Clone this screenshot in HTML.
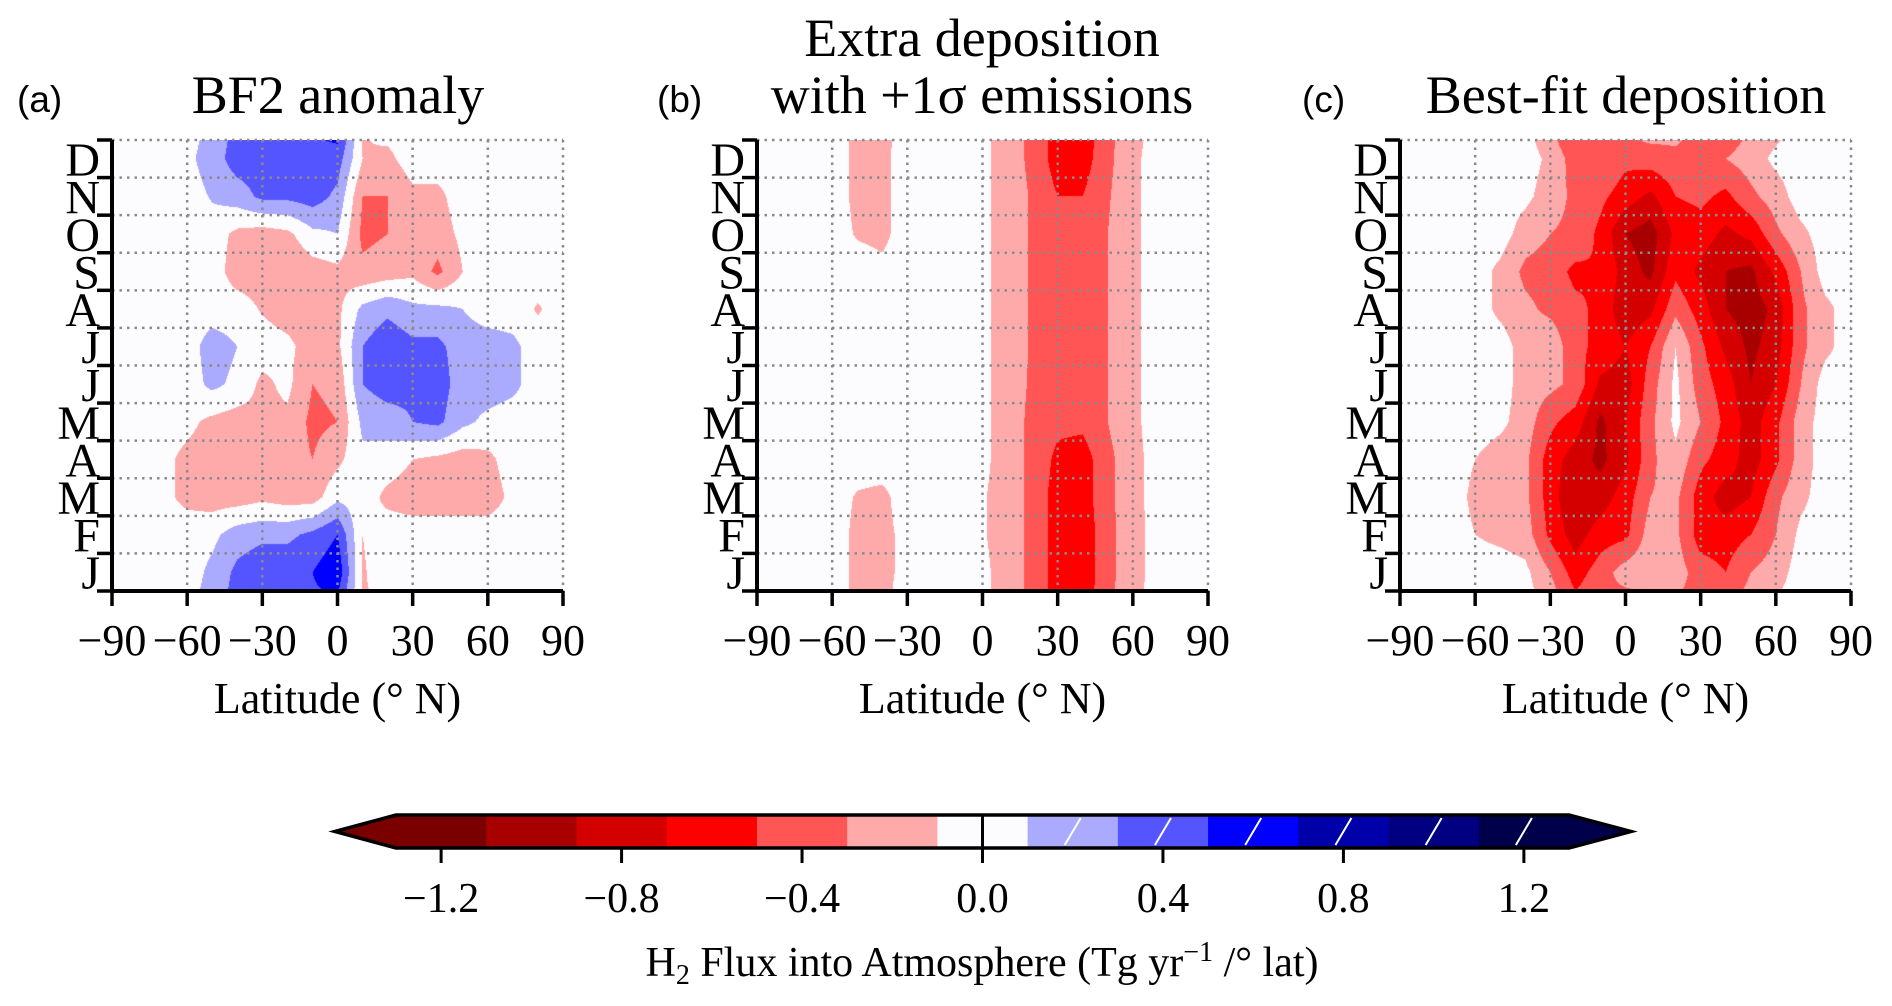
<!DOCTYPE html>
<html><head><meta charset="utf-8">
<style>
html,body{margin:0;padding:0;background:#fff;}
#root{position:relative;width:1892px;height:1006px;overflow:hidden;font-family:"Liberation Serif",serif;}
canvas{position:absolute;}
svg{position:absolute;left:0;top:0;}
</style></head>
<body>
<div id="root">
<canvas id="ca" width="451" height="451" style="left:112px;top:140px"></canvas>
<canvas id="cb" width="451" height="451" style="left:757px;top:140px"></canvas>
<canvas id="cc" width="451" height="451" style="left:1400px;top:140px"></canvas>
<svg id="svg" width="1892" height="1006"></svg>
</div>
<script>
// Latitude columns -90..90 step 10; rows J..D (month index 0..11)
const lats = [-90,-80,-70,-60,-50,-40,-30,-20,-10,0,10,20,30,40,50,60,70,80,90];
const months = ["J","F","M","A","M","J","J","A","S","O","N","D"];
const xTicks = [-90,-60,-30,0,30,60,90];
const cbTicks = [-1.2,-0.8,-0.4,0.0,0.4,0.8,1.2];
const levels = [-1.3,-1.1,-0.9,-0.7,-0.5,-0.3,-0.1,0.1,0.3,0.5,0.7,0.9,1.1,1.3];
const levelColors = ["#7a0000","#a80000","#d40000","#ff0000","#ff5555","#ffaaaa","#fcfcff","#aaaaff","#5555ff","#0000ff","#0000aa","#000080","#00004a"];
const panelA = [
 [0,0,0,0,0.15,0.35,0.45,0.45,0.5,0.65,-0.12,0,0,0,0,0,0,0,0],
 [0,0,0,0,0.05,0.2,0.25,0.25,0.35,0.5,-0.1,0,0,0,0,0,0,0,0],
 [0,0,-0.05,-0.15,-0.2,-0.2,-0.15,-0.2,-0.2,0.05,0,-0.15,-0.2,-0.2,-0.2,-0.2,-0.05,0,0],
 [0,0,-0.05,-0.15,-0.2,-0.2,-0.2,-0.2,-0.3,-0.15,0.05,0,-0.1,-0.15,-0.2,-0.15,0,0,0],
 [0,0,0,-0.05,-0.15,-0.2,-0.15,-0.15,-0.35,-0.3,0.15,0.2,0.3,0.35,0.15,0.05,0,0,0],
 [0,0,0,0,0.15,0.05,-0.15,-0.05,-0.3,-0.25,0.3,0.4,0.35,0.4,0.2,0.2,0.15,0,0],
 [0,0,0,0,0.2,0.1,0,-0.05,-0.2,-0.15,0.3,0.45,0.35,0.35,0.2,0.2,0.15,0,0],
 [0,0,0,0,0,0,-0.12,-0.2,-0.2,-0.15,0.15,0.25,0.15,0.15,0.1,0,0,-0.12,0],
 [0,0,0,0,0,-0.2,-0.2,-0.3,-0.2,-0.15,-0.25,-0.2,-0.15,-0.35,-0.1,0,0,0,0],
 [0,0,0,0,0,-0.15,-0.2,-0.15,0.05,0.1,-0.35,-0.3,-0.15,-0.2,-0.05,0,0,0,0],
 [0,0,0,0,0.12,0.2,0.35,0.35,0.4,0.25,-0.3,-0.3,-0.15,-0.15,0,0,0,0,0],
 [0,0,0,0.05,0.2,0.4,0.4,0.4,0.45,0.4,-0.1,-0.15,0,0,0,0,0,0,0]
];
const panelB = [
 [0,0,0,0,-0.15,-0.15,-0.05,0,0,-0.05,-0.2,-0.35,-0.6,-0.65,-0.35,-0.2,0,0,0],
 [0,0,0,0,-0.15,-0.15,-0.05,0,0,-0.08,-0.2,-0.35,-0.6,-0.65,-0.35,-0.2,0,0,0],
 [0,0,0,0,-0.12,-0.15,0,0,0,-0.08,-0.2,-0.35,-0.6,-0.6,-0.35,-0.18,0,0,0],
 [0,0,0,0,0,0,0,0,0,-0.05,-0.2,-0.35,-0.55,-0.6,-0.35,-0.18,0,0,0],
 [0,0,0,0,0,0,0,0,0,-0.05,-0.2,-0.35,-0.45,-0.45,-0.3,-0.15,0,0,0],
 [0,0,0,0,0,0,0,0,0,-0.05,-0.2,-0.33,-0.45,-0.45,-0.3,-0.15,0,0,0],
 [0,0,0,0,0,0,0,0,0,-0.05,-0.2,-0.32,-0.45,-0.45,-0.3,-0.15,0,0,0],
 [0,0,0,0,0,0,0,0,0,-0.05,-0.2,-0.32,-0.45,-0.45,-0.3,-0.15,0,0,0],
 [0,0,0,0,0,-0.05,0,0,0,-0.05,-0.2,-0.32,-0.45,-0.45,-0.3,-0.15,0,0,0],
 [0,0,0,0,-0.12,-0.15,0,0,0,-0.05,-0.2,-0.32,-0.45,-0.45,-0.3,-0.15,0,0,0],
 [0,0,0,0,-0.15,-0.15,0,0,0,-0.05,-0.2,-0.32,-0.5,-0.5,-0.32,-0.15,0,0,0],
 [0,0,0,0,-0.15,-0.15,0,0,0,-0.05,-0.2,-0.35,-0.6,-0.6,-0.35,-0.15,0,0,0]
];
const panelC = [
 [0,0,0,0,0,-0.05,-0.3,-0.6,-0.4,-0.2,-0.15,-0.2,-0.4,-0.5,-0.3,-0.2,0,0,0],
 [0,0,0,-0.1,-0.15,-0.2,-0.55,-0.8,-0.6,-0.55,-0.2,-0.25,-0.6,-0.6,-0.5,-0.3,-0.05,0,0],
 [0,0,0,-0.15,-0.2,-0.25,-0.6,-0.9,-0.8,-0.6,-0.3,-0.25,-0.6,-0.8,-0.7,-0.35,-0.15,0,0],
 [0,0,0,-0.1,-0.2,-0.25,-0.6,-0.8,-0.95,-0.75,-0.35,-0.15,-0.45,-0.6,-0.8,-0.55,-0.2,0,0],
 [0,0,0,0,-0.05,-0.2,-0.45,-0.6,-0.95,-0.7,-0.35,-0.05,-0.3,-0.55,-0.8,-0.55,-0.2,0,0],
 [0,0,0,0,0,-0.2,-0.25,-0.35,-0.75,-0.8,-0.4,-0.05,-0.4,-0.6,-0.9,-0.7,-0.3,0,0],
 [0,0,0,0,0,-0.2,-0.15,-0.45,-0.55,-0.7,-0.5,-0.1,-0.45,-0.75,-0.95,-0.8,-0.35,-0.15,0],
 [0,0,0,0,-0.15,-0.25,-0.35,-0.45,-0.55,-0.85,-0.75,-0.35,-0.6,-0.9,-1.0,-0.85,-0.35,-0.15,0],
 [0,0,0,0,-0.15,-0.35,-0.4,-0.55,-0.5,-0.8,-0.95,-0.55,-0.75,-0.9,-0.95,-0.65,-0.3,0,0],
 [0,0,0,0,0,-0.2,-0.3,-0.35,-0.55,-0.9,-1.0,-0.65,-0.6,-0.75,-0.65,-0.35,-0.15,0,0],
 [0,0,0,0,0,-0.05,-0.2,-0.35,-0.45,-0.6,-0.75,-0.5,-0.45,-0.55,-0.35,-0.2,0,0,0],
 [0,0,0,0,0,0,-0.15,-0.4,-0.3,-0.45,-0.4,-0.35,-0.35,-0.3,-0.2,-0.05,0,0,0]
];

const W = 451, H = 451;
function colorFor(v){
  for(let i=0;i<levelColors.length;i++){ if(v<levels[i+1]) return levelColors[Math.max(0,i)]; }
  return levelColors[levelColors.length-1];
}
function hexToRgb(h){return [parseInt(h.substr(1,2),16),parseInt(h.substr(3,2),16),parseInt(h.substr(5,2),16)];}
function sample(grid, lat, mpos){
  let fx = (lat+90)/10; fx=Math.max(0,Math.min(18,fx));
  const i0=Math.min(17,Math.floor(fx)), tx=fx-i0;
  const m0f=Math.floor(mpos), ty=mpos-m0f;
  const m0=((m0f%12)+12)%12, m1=(m0+1)%12;
  const a=grid[m0][i0]*(1-tx)+grid[m0][i0+1]*tx;
  const b=grid[m1][i0]*(1-tx)+grid[m1][i0+1]*tx;
  return a*(1-ty)+b*ty;
}
function drawField(id, grid){
  const c=document.getElementById(id), ctx=c.getContext('2d');
  const img=ctx.createImageData(W,H);
  for(let py=0;py<H;py++){
    const mpos=(1-(py+0.5)/H)*12-0.5;
    for(let px=0;px<W;px++){
      const lat=-90+(px+0.5)/W*180;
      const rgb=hexToRgb(colorFor(sample(grid,lat,mpos)));
      const k=(py*W+px)*4;
      img.data[k]=rgb[0];img.data[k+1]=rgb[1];img.data[k+2]=rgb[2];img.data[k+3]=255;
    }
  }
  ctx.putImageData(img,0,0);
}
drawField('ca',panelA);drawField('cb',panelB);drawField('cc',panelC);

const NS="http://www.w3.org/2000/svg";
const svg=document.getElementById('svg');
function mk(tag,attrs,parent){const e=document.createElementNS(NS,tag);for(const k in attrs)e.setAttribute(k,attrs[k]);(parent||svg).appendChild(e);return e;}

const panels=[{x0:112,letter:"(a)",lx:17,title:["BF2 anomaly"],tx:338,name:"a"},
              {x0:757,letter:"(b)",lx:657,title:["Extra deposition","with +1σ emissions"],tx:982,name:"b"},
              {x0:1400,letter:"(c)",lx:1302,title:["Best-fit deposition"],tx:1626,name:"c"}];
const y0=140;
panels.forEach(p=>{
  const g=mk('g',{});
  
  
  const xs=lat=>p.x0+(lat+90)/180*W;
  const ys=i=>y0+H-i*H/12;
  xTicks.forEach(t=>{ if(t>-90){const l=mk('line',{x1:xs(t),x2:xs(t),y1:y0,y2:y0+H,stroke:'#8a8a8a','stroke-width':2.5,'stroke-dasharray':'2.5 5'},g);
    }});
  for(let i=1;i<=12;i++){const l=mk('line',{x1:p.x0,x2:p.x0+W,y1:ys(i),y2:ys(i),stroke:'#8a8a8a','stroke-width':2.5,'stroke-dasharray':'2.5 5'},g);
    }
  const sp=mk('path',{d:`M${p.x0} ${y0} V${y0+H} H${p.x0+W}`,stroke:'#000','stroke-width':4,fill:'none'},g);
  
  for(let i=0;i<=12;i++){mk('line',{x1:p.x0-15,x2:p.x0,y1:ys(i),y2:ys(i),stroke:'#000','stroke-width':3.5},g);}
  months.forEach((m,i)=>{const t=mk('text',{x:p.x0-12,y:ys(i)-37.6/2+17,'text-anchor':'end','font-size':48,fill:'#000'},g);t.textContent=m;
    });
  xTicks.forEach(tk=>{mk('line',{x1:xs(tk),x2:xs(tk),y1:y0+H,y2:y0+H+15,stroke:'#000','stroke-width':3.5},g);
    const t=mk('text',{x:xs(tk),y:655,'text-anchor':'middle','font-size':44,fill:'#000'},g);t.textContent=(tk<0?'−':'')+Math.abs(tk);
    });
  const xl=mk('text',{x:p.x0+W/2,y:713,'text-anchor':'middle','font-size':44,fill:'#000'},g);xl.textContent='Latitude (° N)';
  
  const pl=mk('text',{x:p.lx,y:112,'font-size':37,'font-family':'Liberation Sans, sans-serif',fill:'#000'},g);pl.textContent=p.letter;
  
  p.title.forEach((s,k)=>{const t=mk('text',{x:p.tx,y:p.title.length==1?113:(56+k*57),'text-anchor':'middle','font-size':54,fill:'#000'},g);t.textContent=s;
    });
});

const cb=mk('g',{});


const cx0=396,cx1=1569,cy0=815,cy1=848;
const cxs=v=>cx0+(v+1.3)/2.6*(cx1-cx0);
const la=mk('path',{d:`M${cx0} ${cy0} L335 ${(cy0+cy1)/2} L${cx0} ${cy1} Z`,fill:levelColors[0]},cb);

const ra=mk('path',{d:`M${cx1} ${cy0} L1631 ${(cy0+cy1)/2} L${cx1} ${cy1} Z`,fill:levelColors[12]},cb);

levelColors.forEach((c,i)=>{const r=mk('rect',{x:cxs(levels[i]),y:cy0,width:cxs(levels[i+1])-cxs(levels[i])+0.5,height:cy1-cy0,fill:c},cb);
  
  if(levels[i]>0){mk('line',{x1:(cxs(levels[i])+cxs(levels[i+1]))/2-8,y1:cy1-3,x2:(cxs(levels[i])+cxs(levels[i+1]))/2+8,y2:cy0+3,stroke:'#fff','stroke-width':2},cb);}
});
mk('line',{x1:cxs(0),x2:cxs(0),y1:cy0,y2:cy1,stroke:'#000','stroke-width':3},cb);
mk('path',{d:`M335 ${(cy0+cy1)/2} L${cx0} ${cy0} H${cx1} L1631 ${(cy0+cy1)/2} L${cx1} ${cy1} H${cx0} Z`,fill:'none',stroke:'#000','stroke-width':3.5},cb);
cbTicks.forEach(v=>{mk('line',{x1:cxs(v),x2:cxs(v),y1:cy1,y2:cy1+15,stroke:'#000','stroke-width':3},cb);
  const t=mk('text',{x:cxs(v),y:912,'text-anchor':'middle','font-size':42,fill:'#000'},cb);t.textContent=(v<0?'−':'')+Math.abs(v).toFixed(1);
  });
const ct=mk('text',{x:982,y:976,'text-anchor':'middle','font-size':42,fill:'#000'},cb);
ct.innerHTML='H<tspan font-size="28" dy="8">2</tspan><tspan dy="-8"> Flux into Atmosphere (Tg yr</tspan><tspan font-size="28" dy="-15">−1</tspan><tspan dy="15"> /° lat)</tspan>';


</script>
</body></html>
